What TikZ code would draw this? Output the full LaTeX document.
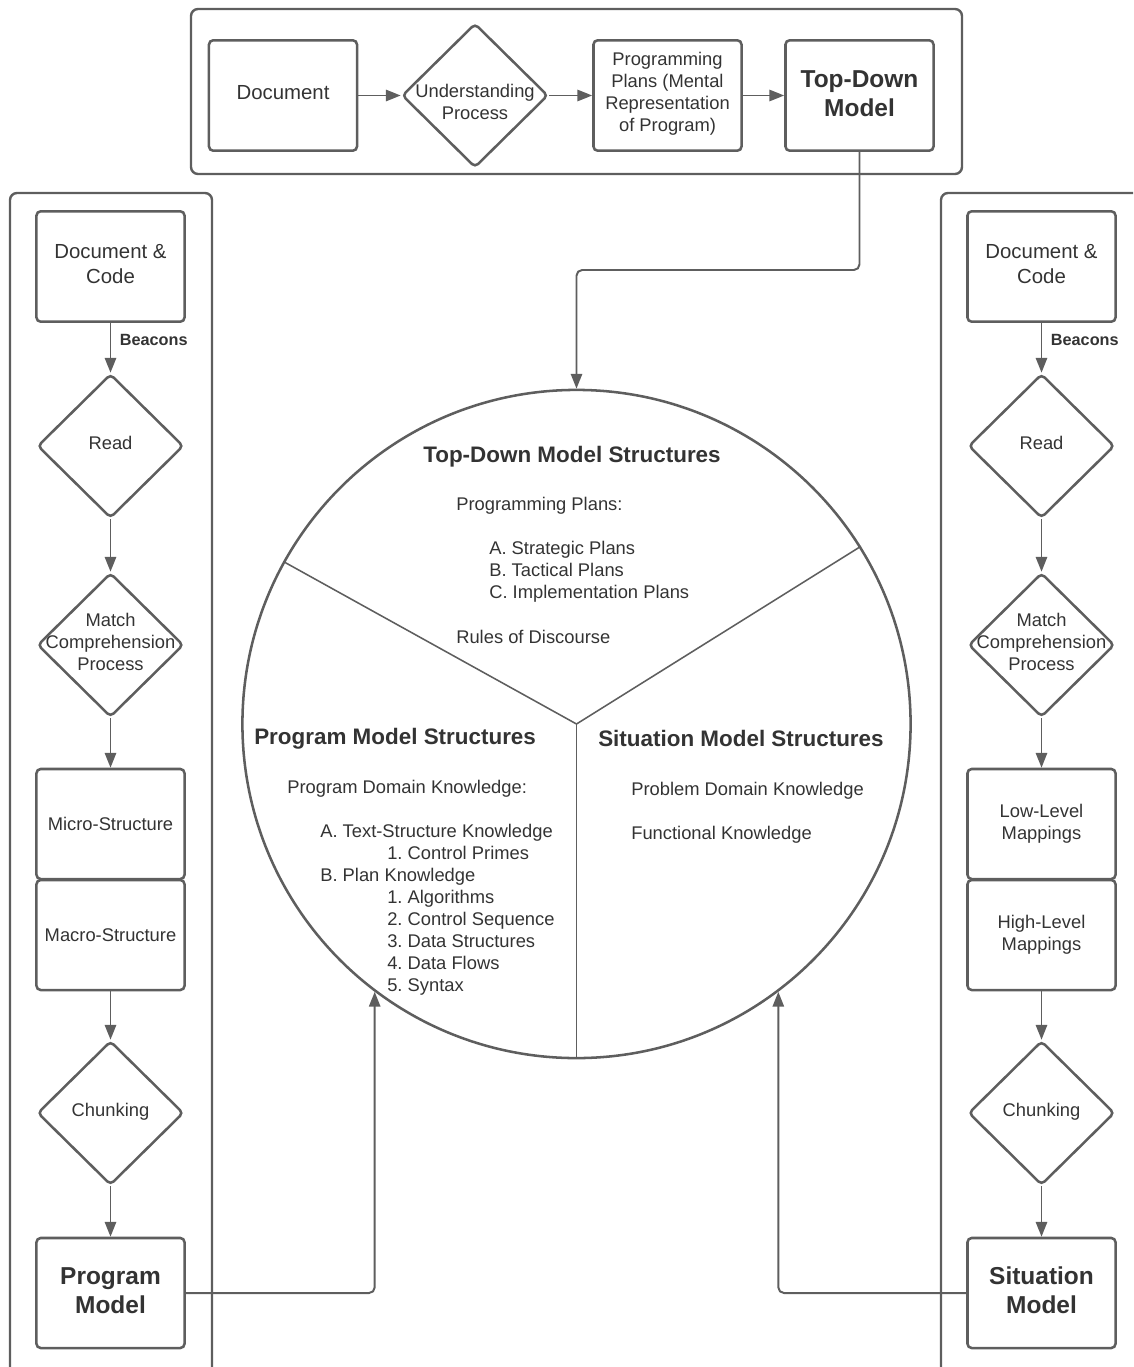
\documentclass[tikz,border=0pt]{standalone}
\usepackage{fontspec}
\setmainfont{Liberation Sans}
\usetikzlibrary{arrows.meta,positioning,shapes.geometric}
\definecolor{edgegray}{rgb}{0.37,0.37,0.37}
\definecolor{inkgray}{rgb}{0.2,0.2,0.2}
\frenchspacing

\begin{document}
\begin{tikzpicture}[
  x=0.025cm,
  y=-0.025cm,
  >={Triangle[length=10.5pt,width=8pt]},
  every node/.style={text=inkgray},
  smalltext/.style={font=\fontsize{13.05}{15.65}\selectfont},
  doctext/.style={font=\fontsize{14.5}{17.8}\selectfont},
  modeltext/.style={font=\fontsize{17.4}{20.6}\selectfont\bfseries},
  headtext/.style={font=\fontsize{15.95}{18}\selectfont\bfseries},
  beacontext/.style={font=\fontsize{11.55}{13}\selectfont\bfseries,inner sep=1pt},
  box/.style={
    draw=edgegray,
    line width=1.8pt,
    rounded corners=3pt,
    minimum width=3.7cm,
    minimum height=2.76cm,
    align=center,
    inner sep=2pt
  },
  decision/.style={
    draw=edgegray,
    line width=1.8pt,
    diamond,
    aspect=1,
    minimum width=3.65cm,
    minimum height=3.6cm,
    inner sep=-14pt,
    rounded corners=3pt,
    align=center,
    text depth=4pt,
    smalltext
  },
  lane/.style={draw=edgegray,line width=1.7pt,rounded corners=5pt},
  flow/.style={->,draw=edgegray,line width=1.4pt},
  divider/.style={draw=edgegray,line width=1.1pt},
  kbcircle/.style={circle,draw=edgegray,line width=1.8pt,minimum size=16.7cm,inner sep=0pt},
  circtext/.style={smalltext,anchor=base west,inner sep=0pt}
]

% Page frame
\useasboundingbox (0,0) rectangle (1133,1367);
\clip (0,0) rectangle (1133,1367);

% Swimlanes
\draw[lane] (191,9) rectangle (962,174);
\draw[lane] (10,1380) |- (212,193) -- (212,1380);
\draw[lane] (941,1380) |- (1150,193);

% Top-down row
\node[box,doctext,text depth=4pt] (doc) at (283,95.5) {Document};
\node[decision] (underst) at (475,95.5) {};
\node[smalltext,align=center,inner sep=0pt] (underlbl) at (475,101.5) {Understanding\\Process};
\node[box,smalltext,text depth=4.5pt] (plans) at (667.5,95.5)
  {Programming\\Plans (Mental\\Representation\\of Program)};
\node[box,modeltext,text depth=3pt] (tdmodel) at (859.5,95.5) {Top-Down\\Model};

\draw[flow] (doc) -- (underst);
\draw[flow] (underst) -- (plans);
\draw[flow] (plans) -- (tdmodel);

% Program model column
\node[box,doctext,text depth=4pt] (pdoc) at (110.5,266.5) {Document \&\\Code};
\node[decision] (pread) at (110.5,446) {Read};
\node[decision] (pmatch) at (110.5,645) {Match\\Comprehension\\Process};
\node[box,smalltext,minimum height=2.75cm] (pmicro) at (110.5,824) {Micro-Structure};
\node[box,smalltext,minimum height=2.75cm] (pmacro) at (110.5,935) {Macro-Structure};
\node[decision] (pchunk) at (110.5,1113) {Chunking};
\node[box,modeltext,minimum height=2.75cm,text depth=3.5pt] (progmodel) at (110.5,1293) {Program\\Model};

\draw[flow] (pdoc) -- node[beacontext,right=5pt,pos=0.34] (pbeacon) {Beacons} (pread);
\draw[flow] (pread) -- (pmatch);
\draw[flow] (pmatch) -- (pmicro);
\draw[flow] (pmacro) -- (pchunk);
\draw[flow] (pchunk) -- (progmodel);

% Situation model column
\node[box,doctext,text depth=4pt] (sdoc) at (1041.5,266.5) {Document \&\\Code};
\node[decision] (sread) at (1041.5,446) {Read};
\node[decision] (smatch) at (1041.5,645) {Match\\Comprehension\\Process};
\node[box,smalltext,minimum height=2.75cm] (slow) at (1041.5,824) {Low-Level\\Mappings};
\node[box,smalltext,minimum height=2.75cm] (shigh) at (1041.5,935) {High-Level\\Mappings};
\node[decision] (schunk) at (1041.5,1113) {Chunking};
\node[box,modeltext,minimum height=2.75cm,text depth=3.5pt] (sitmodel) at (1041.5,1293) {Situation\\Model};

\draw[flow] (sdoc) -- node[beacontext,right=5pt,pos=0.34] (sbeacon) {Beacons} (sread);
\draw[flow] (sread) -- (smatch);
\draw[flow] (smatch) -- (slow);
\draw[flow] (shigh) -- (schunk);
\draw[flow] (schunk) -- (sitmodel);

% Knowledge base circle
\node[kbcircle] (kb) at (576.5,724) {};
\draw[divider] (kb.center) -- (kb.151.3);
\draw[divider] (kb.center) -- (kb.32.4);
\draw[divider] (kb.center) -- (kb.south);

% Feeds into the circle
\coordinate (tdbend) at (576.5,270);
\draw[flow,rounded corners=4pt] (tdmodel.south) |- (tdbend) -- (kb.north);
\draw[flow,rounded corners=4pt] (progmodel.east) -| (kb.233.1);
\draw[flow,rounded corners=4pt] (sitmodel.west) -| (kb.307.9);

% Top-down structures
\node[headtext,anchor=base west,inner sep=0pt] (tdhead) at (423,462) {Top-Down Model Structures};
\node[circtext] (tdplans) at (456,510) {Programming Plans:};
\node[circtext] (tdstrat) at (489,554) {A. Strategic Plans};
\node[circtext] (tdtact) at (489,576) {B. Tactical Plans};
\node[circtext] (tdimpl) at (489,598) {C. Implementation Plans};
\node[circtext] (tdrules) at (456,643) {Rules of Discourse};

% Program model structures
\node[headtext,anchor=base west,inner sep=0pt] (pshead) at (254,744) {Program Model Structures};
\node[circtext] (psdomain) at (287,793) {Program Domain Knowledge:};
\node[circtext] (pstext) at (320,837) {A. Text-Structure Knowledge};
\node[circtext] (psprimes) at (387,859) {1. Control Primes};
\node[circtext] (psplan) at (320,881) {B. Plan Knowledge};
\node[circtext] (psalgo) at (387,903) {1. Algorithms};
\node[circtext] (psseq) at (387,925) {2. Control Sequence};
\node[circtext] (psdata) at (387,947) {3. Data Structures};
\node[circtext] (psflow) at (387,969) {4. Data Flows};
\node[circtext] (pssyntax) at (387,991) {5. Syntax};

% Situation model structures
\node[headtext,anchor=base west,inner sep=0pt] (sshead) at (598,746) {Situation Model Structures};
\node[circtext] (ssproblem) at (631,795) {Problem Domain Knowledge};
\node[circtext] (ssfunc) at (631,839) {Functional Knowledge};
\end{tikzpicture}
\end{document}
